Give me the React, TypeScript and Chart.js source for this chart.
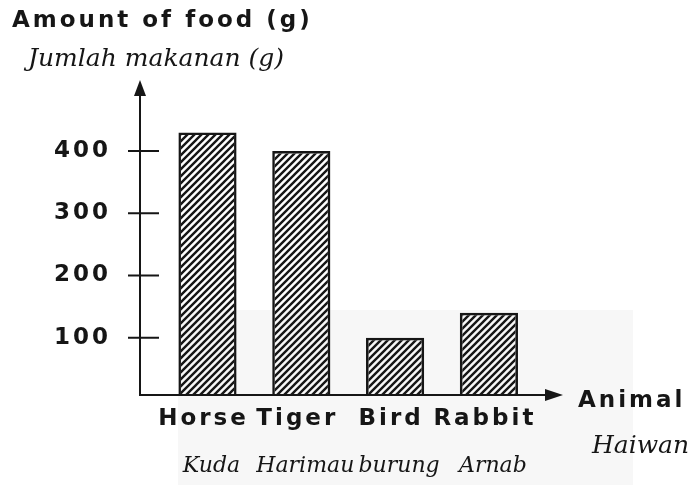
import React, { useEffect, useRef } from 'react';
import { Chart, registerables } from 'chart.js';

Chart.register(...registerables);

// ---- data ----
const animals = ['Horse', 'Tiger', 'Bird', 'Rabbit'];
const animalsMalay = ['Kuda', 'Harimau', 'burung', 'Arnab'];
const foodGrams = [430, 400, 100, 140];
const yTickValues = [100, 200, 300, 400];
const yTitle = 'Amount of food (g)';
const yTitleMalay = 'Jumlah makanan (g)';
const xTitle = 'Animal';
const xTitleMalay = 'Haiwan';

const INK = '#161616';
const sansFont = { family: '"DejaVu Sans", sans-serif', size: 23, weight: 'bold' as const };
const serifFont = { family: '"DejaVu Serif", serif', size: 22, style: 'italic' as const };

function makeHatch(ctx: CanvasRenderingContext2D) {
  const s = 7;
  const c = document.createElement('canvas');
  c.width = s;
  c.height = s;
  const g = c.getContext('2d')!;
  g.strokeStyle = INK;
  g.lineWidth = 2.4;
  g.beginPath();
  g.moveTo(-1, s + 1);
  g.lineTo(s + 1, -1);
  g.moveTo(-1, 1);
  g.lineTo(1, -1);
  g.moveTo(s - 1, s + 1);
  g.lineTo(s + 1, s - 1);
  g.stroke();
  return ctx.createPattern(c, 'repeat')!;
}

const decorPlugin = {
  id: 'decor',
  beforeDraw(chart: any) {
    const ctx = chart.ctx as any;
    ctx.save();
    ctx.fillStyle = '#ffffff';
    ctx.fillRect(0, 0, chart.width, chart.height);
    ctx.fillStyle = '#f7f7f7';
    ctx.fillRect(178, 310, 455, 175);
    ctx.restore();
    ctx.letterSpacing = '3px';
  },
  afterDatasetsDraw(chart: any) {
    (chart.ctx as any).letterSpacing = '0px';
  },
  afterDraw(chart: any) {
    const ctx = chart.ctx as any;
    const y = chart.scales.y;
    const axisX = 140;
    const axisY = y.getPixelForValue(y.min);
    ctx.save();
    ctx.letterSpacing = '0px';
    ctx.strokeStyle = INK;
    ctx.fillStyle = INK;
    ctx.lineWidth = 2;
    ctx.beginPath();
    ctx.moveTo(axisX, axisY + 1);
    ctx.lineTo(axisX, 92);
    ctx.moveTo(axisX - 1, axisY);
    ctx.lineTo(548, axisY);
    ctx.stroke();
    // arrows
    ctx.beginPath();
    ctx.moveTo(axisX, 80);
    ctx.lineTo(axisX - 6, 96);
    ctx.lineTo(axisX + 6, 96);
    ctx.closePath();
    ctx.fill();
    ctx.beginPath();
    ctx.moveTo(563, axisY);
    ctx.lineTo(545, axisY - 6);
    ctx.lineTo(545, axisY + 6);
    ctx.closePath();
    ctx.fill();
    // tick marks crossing the axis
    ctx.beginPath();
    yTickValues.forEach((v) => {
      const py = y.getPixelForValue(v);
      ctx.moveTo(128, py);
      ctx.lineTo(159, py);
    });
    ctx.stroke();
    // titles
    ctx.textBaseline = 'alphabetic';
    ctx.textAlign = 'left';
    ctx.letterSpacing = '3px';
    ctx.font = `bold 23px ${sansFont.family}`;
    ctx.fillText(yTitle, 12, 27);
    ctx.fillText(xTitle, 578, 407);
    ctx.letterSpacing = '0px';
    ctx.font = `italic 25px ${serifFont.family}`;
    ctx.fillText(yTitleMalay, 28, 66);
    ctx.fillText(xTitleMalay, 592, 453);
    ctx.restore();
  },
};

export default function App() {
  const ref = useRef<HTMLCanvasElement>(null);
  useEffect(() => {
    const canvas = ref.current!;
    const ctx = canvas.getContext('2d')!;
    const pattern = makeHatch(ctx);
    const chart = new Chart(canvas, {
      type: 'bar',
      data: {
        labels: animals,
        datasets: [
          {
            data: foodGrams,
            backgroundColor: pattern,
            borderColor: INK,
            borderWidth: 2.5,
            borderSkipped: 'start',
            categoryPercentage: 1,
            barPercentage: 0.62,
            xAxisID: 'x',
            yAxisID: 'y',
          },
        ],
      },
      options: {
        responsive: false,
        animation: false,
        devicePixelRatio: 1,
        layout: { padding: { left: 0, top: 101.3, right: 155.2, bottom: 5 } },
        plugins: { legend: { display: false }, tooltip: { enabled: false } },
        scales: {
          x: {
            type: 'category',
            position: 'bottom',
            offset: true,
            weight: 0,
            grid: { display: false, drawTicks: false },
            border: { display: false },
            ticks: { font: sansFont, color: INK, padding: 10, maxRotation: 0, autoSkip: false, labelOffset: -4 },
            afterFit: (s: any) => {
              s.height = 40;
            },
          },
          x2: {
            type: 'category',
            labels: animalsMalay,
            position: 'bottom',
            offset: true,
            weight: 1,
            grid: { display: false, drawTicks: false },
            border: { display: false },
            ticks: { font: serifFont, color: INK, padding: 18, maxRotation: 0, autoSkip: false, z: 1, labelOffset: 4 },
            afterFit: (s: any) => {
              s.height = 45;
            },
          },
          y: {
            type: 'linear',
            min: 8,
            max: 480,
            grid: { display: false, drawTicks: false },
            border: { display: false },
            afterBuildTicks: (s: any) => {
              s.ticks = yTickValues.map((v) => ({ value: v }));
            },
            ticks: { font: sansFont, color: INK, padding: 49.6 },
            afterFit: (s: any) => {
              s.width = 160.6;
            },
          },
        },
      } as any,
      plugins: [decorPlugin],
    });
    return () => chart.destroy();
  }, []);
  return (
    <div style={{ position: 'fixed', left: 0, top: 0, width: 691, height: 485, background: '#fff' }}>
      <canvas ref={ref} width={691} height={485} style={{ display: 'block' }} />
    </div>
  );
}
